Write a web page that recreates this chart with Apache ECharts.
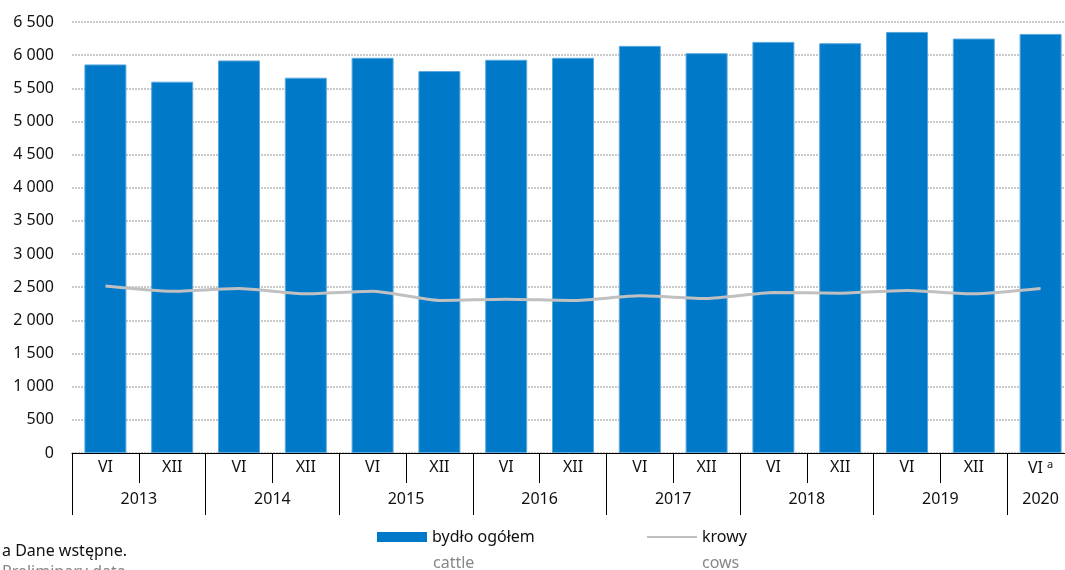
<!DOCTYPE html>
<html>
<head>
<meta charset="utf-8">
<script src="https://cdn.jsdelivr.net/npm/echarts@6/dist/echarts.min.js"></script>
<style>
  html, body { margin: 0; padding: 0; background: #fff; }
  #chart { width: 1065px; height: 570px; }
</style>
</head>
<body>
<div id="chart"></div>
<script>
let months = ['VI', 'XII', 'VI', 'XII', 'VI', 'XII', 'VI', 'XII', 'VI', 'XII', 'VI', 'XII', 'VI', 'XII', 'VI{sup|a}'];
let yearOf = [2013, 2013, 2014, 2014, 2015, 2015, 2016, 2016, 2017, 2017, 2018, 2018, 2019, 2019, 2020];
let cattle = [5860, 5600, 5920, 5660, 5960, 5760, 5930, 5960, 6140, 6030, 6200, 6180, 6350, 6250, 6320];
let cows = [2520, 2440, 2480, 2400, 2440, 2300, 2320, 2300, 2370, 2330, 2420, 2410, 2450, 2400, 2480];
let yTicks = [0, 6500, 500]; // min, max, step
let seriesNames = ['bydło ogółem', 'krowy'];
let seriesNamesEn = ['cattle', 'cows'];

const font = 'Noto Sans';

// centre of each year's group of categories
let yearCentres = {};
yearOf.forEach(function (y, i) {
  if (!yearCentres[y]) yearCentres[y] = [i, i];
  yearCentres[y][1] = i;
});
let yearPos = {};
Object.keys(yearCentres).forEach(function (y) {
  let r = yearCentres[y];
  yearPos[(r[0] + r[1] + 1) / 2] = y;
});

function fmtThousands(v) {
  return String(v).replace(/\B(?=(\d{3})+(?!\d))/g, ' ');
}

// thin grey line inside a 50x10 box (corner specks keep the box size)
let lineIcon = 'path://M0,0H0.01V0.01H0Z M0,4H50V6H0Z M50,10H49.99V9.99H50Z';
let icons = ['rect', lineIcon];
let legendX = [372, 642];

let legends = [];
seriesNames.forEach(function (name, i) {
  legends.push({
    left: legendX[i], top: 524, itemWidth: 50, itemHeight: 10, selectedMode: false,
    data: [{ name: name, icon: icons[i], itemStyle: { borderWidth: 0 } }],
    textStyle: { fontFamily: font, fontSize: 16, color: '#111' }
  });
  legends.push({
    left: legendX[i], top: 550, itemWidth: 50, itemHeight: 10, selectedMode: false,
    data: [{ name: name, icon: 'rect', itemStyle: { opacity: 0 } }],
    formatter: function () { return seriesNamesEn[i]; },
    textStyle: { fontFamily: font, fontSize: 16, color: '#888' }
  });
});

let chart = echarts.init(document.getElementById('chart'));
chart.setOption({
  animation: false,
  textStyle: { fontFamily: font },
  title: {
    text: 'a Dane wstępne.',
    subtext: 'Preliminary data.',
    left: -3,
    top: 538,
    itemGap: 5,
    textStyle: { fontFamily: font, fontSize: 16, fontWeight: 'normal', color: '#111' },
    subtextStyle: { fontFamily: font, fontSize: 16, color: '#888' }
  },
  legend: legends,
  grid: { left: 72, width: 1002, top: 22, bottom: 117, outerBoundsMode: 'none', containLabel: false },
  xAxis: [{
    type: 'category',
    data: months,
    axisLine: { show: true, lineStyle: { color: '#000', width: 1 } },
    axisTick: { show: true, interval: 0, length: 30, lineStyle: { color: '#000', width: 1 } },
    axisLabel: {
      interval: 0, margin: 6, fontFamily: font, fontSize: 16, color: '#111',
      rich: { sup: { fontFamily: font, fontSize: 11, padding: [0, 0, 8, 4], color: '#111' } }
    }
  }, {
    type: 'category',
    data: months,
    position: 'bottom',
    offset: 30,
    axisLine: { show: false },
    axisTick: { show: true, length: 32, interval: function (i) { return yearOf[i] !== yearOf[i - 1]; },
      lineStyle: { color: '#000', width: 1 } },
    axisLabel: { show: false }
  }, {
    type: 'value',
    position: 'bottom',
    offset: 30,
    min: 0,
    max: months.length,
    interval: 0.5,
    axisLine: { show: false },
    axisTick: { show: false },
    splitLine: { show: false },
    axisLabel: {
      margin: 8, fontFamily: font, fontSize: 16, color: '#111',
      showMinLabel: true, showMaxLabel: true,
      formatter: function (v) { return yearPos[v] || ''; }
    }
  }],
  yAxis: {
    type: 'value',
    min: yTicks[0],
    max: yTicks[1],
    interval: yTicks[2],
    axisLine: { show: false },
    axisTick: { show: false },
    axisLabel: { margin: 18, fontFamily: font, fontSize: 16, color: '#111', formatter: fmtThousands },
    splitLine: { lineStyle: { color: '#b8b8b8', type: [2, 1], width: 1.5 } }
  },
  series: [{
    name: seriesNames[0],
    type: 'bar',
    xAxisIndex: 0,
    data: cattle,
    barWidth: 42,
    itemStyle: { color: '#0079c8', borderColor: '#5aa8de', borderWidth: 1 }
  }, {
    name: seriesNames[1],
    type: 'line',
    xAxisIndex: 0,
    data: cows,
    symbol: 'none',
    smooth: 0.2,
    lineStyle: { color: '#c0c0c0', width: 3 },
    itemStyle: { color: '#c0c0c0' }
  }]
});
</script>
</body>
</html>
